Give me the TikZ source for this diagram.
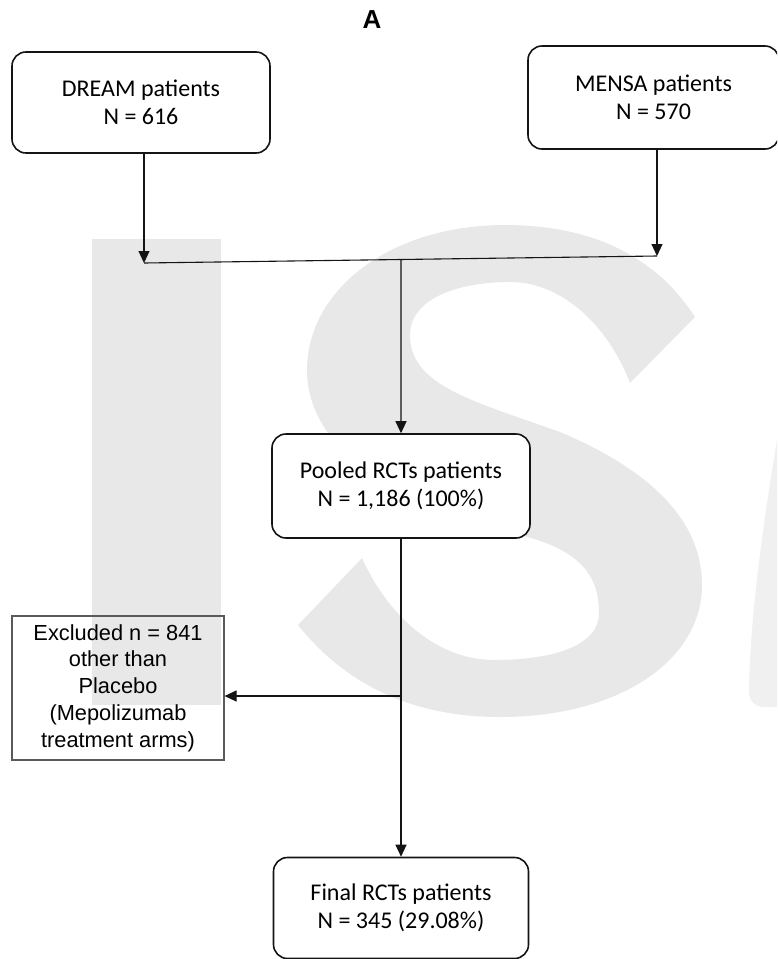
\documentclass[tikz,border=0pt]{standalone}
\usepackage{fontspec}
\newfontfamily\calfont{Carlito}
\newfontfamily\arialfont{Liberation Sans}
\usepackage{xcolor}
\definecolor{coal}{RGB}{20,20,20}
\definecolor{frame}{RGB}{90,90,90}
\definecolor{wmgrey}{RGB}{232,232,232}
\definecolor{wmpale}{RGB}{240,240,240}
\usetikzlibrary{arrows.meta,positioning,calc}
\tikzset{
  %% Rounded study boxes
  rbox/.style={draw=coal, line width=1.6pt, rounded corners=14pt, fill=white,
               align=center, inner sep=0pt,
               font=\calfont\fontsize{24}{28}\selectfont},
  %% Square exclusion box
  sbox/.style={draw=frame, line width=1.1pt, align=center, inner sep=0pt,
               font=\arialfont\fontsize{21.8}{26.8}\selectfont},
  arr/.style={-{Triangle[length=12pt,width=11pt]}, line width=1.1pt, draw=coal},
  link/.style={line width=1.1pt, draw=coal},
}

\begin{document}
\begin{tikzpicture}[x=1pt,y=-1pt]
\useasboundingbox (0,0) rectangle (777,959);
\clip (0,0) rectangle (777,959);

%% watermark
\fill[wmgrey] (92,239) rectangle (221,705);
\fill[wmgrey] (695,317) .. controls (655,255) and (590,225) .. (505,225)
  .. controls (390,225) and (307,290) .. (307,370)
  .. controls (307,450) and (400,510) .. (520,535)
  .. controls (580,550) and (599,575) .. (599,613)
  .. controls (599,645) and (555,660) .. (494,660)
  .. controls (440,660) and (390,620) .. (362,558)
  -- (298,625)
  .. controls (350,690) and (420,717) .. (500,717)
  .. controls (620,717) and (702,660) .. (702,585)
  .. controls (702,520) and (650,470) .. (560,432)
  .. controls (470,400) and (410,385) .. (410,335)
  .. controls (410,300) and (455,282) .. (510,282)
  .. controls (565,282) and (610,330) .. (630,383)
  -- cycle;
\fill[wmpale] (777,440) .. controls (762,530) and (750,620) .. (749,690)
  .. controls (749,702) and (755,707) .. (765,707) -- (777,707) -- cycle;

\node[font=\arialfont\bfseries\fontsize{26}{30}\selectfont] (title) at (372,20) {A};

\node[rbox, minimum width=258pt, minimum height=101pt] (dream) at (141,102.5)
  {DREAM patients\\N = 616};
\node[rbox, minimum width=251pt, minimum height=103pt] (mensa) at (653.5,97.5)
  {MENSA patients\\N = 570};
\node[rbox, minimum width=258pt, minimum height=104pt] (pooled) at (401,486)
  {Pooled RCTs patients\\N = 1,186 (100\%)};
\node[sbox, minimum width=212pt, minimum height=144pt] (excl) at (118,688)
  {Excluded n = 841\\other than\\Placebo\\(Mepolizumab\\treatment arms)};
\node[rbox, minimum width=255pt, minimum height=101pt] (final) at (401,908)
  {Final RCTs patients\\N = 345 (29.08\%)};

\coordinate (jL) at (144,263);
\coordinate (jR) at (657,256);
\coordinate (jM) at ($(jL)!0.501!(jR)$);
\coordinate (br) at (401,696);

\draw[arr] (dream.south -| jL) -- (jL);
\draw[arr] (mensa.south -| jR) -- (jR);
\draw[link] (jL) -- (jR);
\draw[arr] (jM) -- (pooled.north);
\draw[arr] (pooled.south) -- (final.north);
\draw[arr] (br) -- (br -| excl.east);
\end{tikzpicture}
\end{document}
